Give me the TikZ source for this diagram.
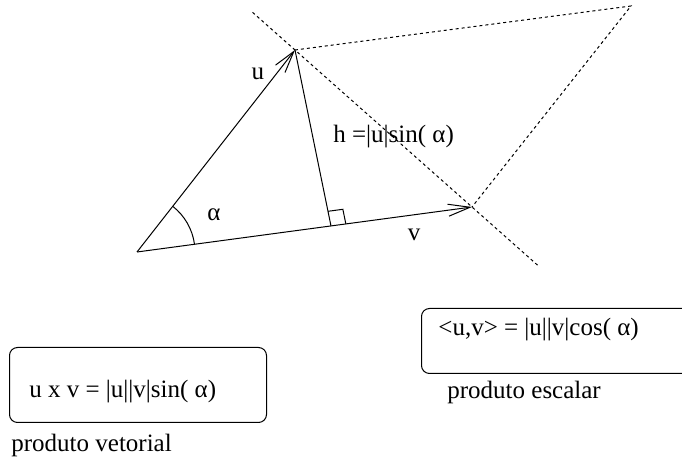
\documentclass[tikz,border=0pt]{standalone}
\usepackage{fontspec}
\setmainfont{Liberation Serif}
\usetikzlibrary{calc, arrows.meta}

\begin{document}
\begin{tikzpicture}[x=0.5pt, y=-0.5pt, font=\fontsize{12.5}{14}\selectfont]

    % Définition des styles
    \tikzset{
        vetor/.style={-{Straight Barb[length=11pt, width=6pt]}, line width=0.5pt},
        traco/.style={line width=0.5pt},
        tracejado/.style={line width=0.5pt, dash pattern=on 1.5pt off 1.5pt},
        rotulo/.style={inner sep=0pt},
        caixa/.style={draw, line width=0.5pt, rounded corners=4pt, anchor=north west, inner sep=0pt}
    }

    \useasboundingbox (0,0) rectangle (682,459);
    \clip (0,0) rectangle (682,459);

    % --- VETORES ---
    \coordinate (o) at (137,252);
    \coordinate (u) at (295,50);
    \coordinate (v) at (472,207);
    \coordinate (w) at (631,6);
    \coordinate (pe) at (331,226);

    \draw[vetor] (o) -- (u);
    \draw[vetor] (o) -- (v);
    \draw[traco] (u) -- (pe);

    % angulo e angulo reto
    \draw[traco] ($(o)!29pt!(u)$) arc[start angle=52, end angle=7.6, radius=29pt];
    \coordinate (ra) at ($(pe)!7.5pt!(v)$);
    \coordinate (rb) at ($(pe)!7.5pt!(u)$);
    \draw[traco] (ra) -- ($(ra)+(rb)-(pe)$) -- (rb);

    % --- PARALELOGRAMO ---
    \draw[tracejado] (u) -- (w) -- (v);
    \draw[tracejado] ($(u)!-0.24!(v)$) -- ($(u)!1.38!(v)$);

    % --- ROTULOS ---
    \node[rotulo] (lu) at (258,74) {u};
    \node[rotulo] (lalfa) at (214,215) {α};
    \node[rotulo, anchor=west] (lh) at (333,137) {h =|u|sin( α)};
    \node[rotulo] (lv) at (414,235) {v};

    % --- FORMULAS ---
    \node[caixa, minimum width=128.5pt, minimum height=37.5pt] (vetorial) at (9,347) {};
    \node[rotulo, anchor=base west] (fvet) at (29,398) {u x v = |u||v|sin( α)};
    \node[rotulo, anchor=base west] (nvet) at (11,452) {produto vetorial};

    \node[caixa, minimum width=140pt, minimum height=32.5pt] (escalar) at (421,308) {};
    \node[rotulo, anchor=base west] (fesc) at (438,336) {<u,v> = |u||v|cos( α)};
    \node[rotulo, anchor=base west] (nesc) at (447,399) {produto escalar};

\end{tikzpicture}
\end{document}
